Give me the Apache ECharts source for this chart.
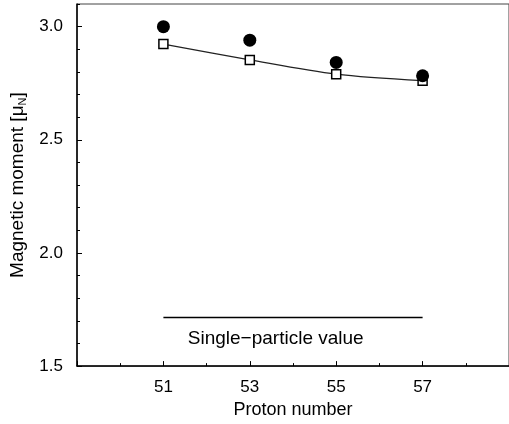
<!DOCTYPE html>
<html>
<head>
<meta charset="utf-8">
<script src="https://cdn.jsdelivr.net/npm/echarts@6/dist/echarts.min.js"></script>
<style>
    html, body { margin: 0; padding: 0; background: #fff; overflow: hidden; }
    #chart { width: 509px; height: 424px; }
</style>
</head>
<body>
<div id="chart"></div>
<script>
    // proton number of the isotopes
    const protons = [51, 53, 55, 57]
    // measured magnetic moments (filled circles)
    const measured = [3.0, 2.94, 2.842, 2.783]
    // calculated magnetic moments (open squares, joined by line)
    const calculated = [2.923, 2.853, 2.79, 2.761]
    // single-particle estimate, drawn from first to last isotope
    const singleParticle = 1.715
    const singleParticleText = 'Single\u2212particle value'
    const singleParticleTextAt = [53.6, 1.622]

    const chart = echarts.init(document.getElementById('chart'))
    const font = 'Liberation Sans, Arial, Helvetica, sans-serif'

    const measuredData = protons.map((p, i) => [p, measured[i]])
    const calculatedData = protons.map((p, i) => [p, calculated[i]])
    const singleData = [[protons[0], singleParticle], [protons[protons.length - 1], singleParticle]]

    const option = {
        animation: false,
        grid: {
            left: 77,
            right: -8,
            top: 4,
            bottom: 53,
            show: true,
            borderColor: '#444',
            borderWidth: 1
        },
        xAxis: [
            {
                type: 'value',
                min: 49,
                max: 59,
                interval: 2,
                name: 'Proton number',
                nameLocation: 'middle',
                nameGap: 34,
                nameTextStyle: { fontFamily: font, fontSize: 18, color: '#000' },
                axisLine: { lineStyle: { color: '#000', width: 1.5 } },
                axisTick: { inside: true, length: 5, lineStyle: { color: '#000' } },
                minorTick: { show: true, splitNumber: 2, length: 3, lineStyle: { color: '#000' } },
                splitLine: { show: false },
                axisLabel: {
                    showMinLabel: false,
                    showMaxLabel: false,
                    margin: 13,
                    fontFamily: font,
                    fontSize: 17,
                    color: '#000'
                }
            }
        ],
        yAxis: [
            {
                type: 'value',
                min: 1.5,
                max: 3.1,
                interval: 0.5,
                name: 'Magnetic moment [\u03bc{sub|N}]',
                nameLocation: 'middle',
                nameGap: 49,
                nameTextStyle: {
                    fontFamily: font,
                    fontSize: 19,
                    color: '#000',
                    rich: {
                        sub: { fontFamily: font, fontSize: 11, color: '#000', padding: [9, 0, 0, 0] }
                    }
                },
                axisLine: { lineStyle: { color: '#000', width: 1.5 } },
                axisTick: { inside: true, length: 5, lineStyle: { color: '#000' } },
                splitLine: { show: false },
                axisLabel: {
                    showMaxLabel: false,
                    margin: 14,
                    fontFamily: font,
                    fontSize: 17,
                    color: '#000',
                    formatter: v => v.toFixed(1)
                }
            },
            {
                // minor ticks every 0.1
                type: 'value',
                position: 'left',
                min: 1.5,
                max: 3.1,
                interval: 0.1,
                axisLine: { show: false },
                axisTick: { inside: true, length: 3, lineStyle: { color: '#000' } },
                splitLine: { show: false },
                axisLabel: { show: false }
            }
        ],
        series: [
            {
                type: 'line',
                data: calculatedData,
                smooth: 0.3,
                symbol: 'rect',
                symbolSize: 9,
                itemStyle: { color: '#fff', borderColor: '#000', borderWidth: 1.5, opacity: 1 },
                lineStyle: { color: '#222', width: 1.2 },
                z: 3
            },
            {
                type: 'scatter',
                data: measuredData,
                symbol: 'circle',
                symbolSize: 13,
                itemStyle: { color: '#000', opacity: 1 },
                z: 4
            },
            {
                type: 'line',
                data: singleData,
                symbol: 'none',
                lineStyle: { color: '#000', width: 1.5 }
            },
            {
                type: 'scatter',
                data: [singleParticleTextAt],
                symbolSize: 0,
                itemStyle: { opacity: 1 },
                label: {
                    show: true,
                    position: 'inside',
                    formatter: singleParticleText,
                    fontFamily: font,
                    fontSize: 19,
                    color: '#000'
                }
            }
        ]
    }

    option && chart.setOption(option)
</script>
</body>
</html>
